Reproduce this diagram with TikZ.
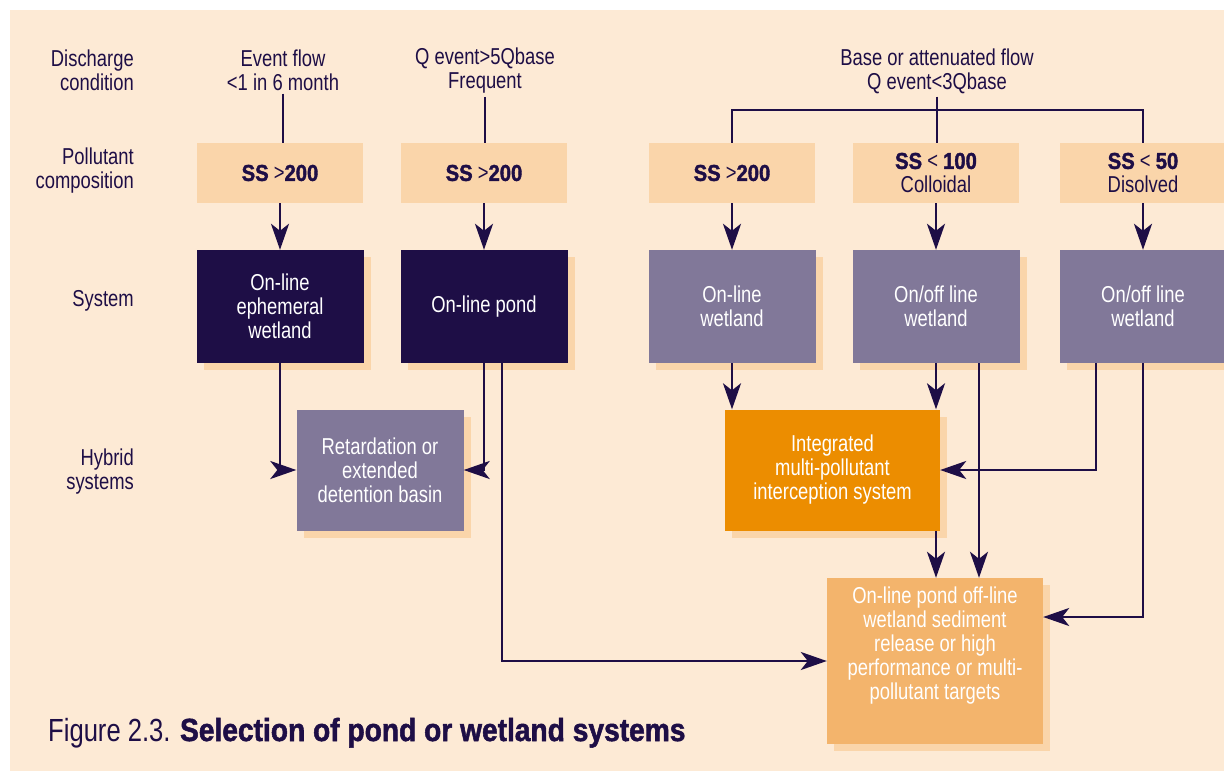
\documentclass[tikz,border=0pt]{standalone}
\usepackage{fontspec}
\setmainfont{Liberation Sans}[FakeStretch=0.8]
\newfontfamily\heavyfont{Liberation Sans}[FakeStretch=0.88, BoldFeatures={FakeBold=1.6}]
\usepackage{xcolor}
\usetikzlibrary{arrows.meta,shadows}

\definecolor{bgpeach}{HTML}{FDEAD5}
\definecolor{lightpeach}{HTML}{FAD5AA}
\definecolor{inkblue}{HTML}{1E0E46}
\definecolor{mauve}{HTML}{817899}
\definecolor{deeporange}{HTML}{EC8D00}
\definecolor{softorange}{HTML}{F3B46C}

\newcommand{\txtsize}{\fontsize{23}{24}\selectfont}
\newcommand{\hv}[1]{{\heavyfont\bfseries #1}}

\tikzset{
  lbl/.style={text=inkblue, align=center, font=\txtsize, inner sep=3pt},
  rowlbl/.style={lbl, align=right, anchor=east},
  polbox/.style={fill=lightpeach, text=inkblue, align=center, font=\txtsize,
    minimum width=166, minimum height=60, inner sep=0pt},
  shadowbox/.style={text=white, align=center, font=\txtsize, inner sep=0pt,
    drop shadow={shadow xshift=7pt, shadow yshift=-7pt, fill=lightpeach, opacity=1}},
  navybox/.style={shadowbox, fill=inkblue, minimum width=167, minimum height=113},
  mauvebox/.style={shadowbox, fill=mauve, minimum width=167, minimum height=113},
  link/.style={draw=inkblue, line width=2.6pt},
  flow/.style={link, -{Stealth[length=26pt,width=18pt,inset=7pt]}}
}

\begin{document}
\begin{tikzpicture}[x=1pt,y=-1pt]
  \useasboundingbox (0,0) rectangle (1224,771);
  \fill[white] (0,0) rectangle (1224,771);
  \fill[bgpeach] (10,10) rectangle (1224,771);

  % row labels
  \node[rowlbl] (rdis) at (137,70) {Discharge\\condition};
  \node[rowlbl] (rpol) at (137,171) {Pollutant\\composition};
  \node[rowlbl] (rsys) at (137,301) {System};
  \node[rowlbl] (rhyb) at (137,472) {Hybrid\\systems};

  % discharge conditions
  \node[lbl] (ev) at (283,70) {Event flow\\<1 in 6 month};
  \node[lbl] (freq) at (485,71) {Q event>5Qbase\\Frequent};
  \node[lbl] (base) at (937,71) {Base or attenuated flow\\Q event<3Qbase};

  % pollutant composition
  \node[polbox] (p1) at (280,173) {\hv{SS} >\hv{200}};
  \node[polbox] (p2) at (484,173) {\hv{SS} >\hv{200}};
  \node[polbox] (p3) at (732,173) {\hv{SS} >\hv{200}};
  \node[polbox] (p4) at (936,173) {\hv{SS} < \hv{100}\\Colloidal};
  \node[polbox] (p5) at (1143,173) {\hv{SS} < \hv{50}\\Disolved};

  % systems
  \node[navybox] (s1) at (280,306.5) {On-line\\ephemeral\\wetland};
  \node[navybox] (s2) at (484,306.5) {On-line pond};
  \node[mauvebox] (s3) at (732,306.5) {On-line\\wetland};
  \node[mauvebox] (s4) at (936,306.5) {On/off line\\wetland};
  \node[mauvebox] (s5) at (1143,306.5) {On/off line\\wetland};

  % hybrid systems
  \node[mauvebox, minimum height=121] (ret) at (380,470)
    {Retardation or\\extended\\detention basin};
  \node[shadowbox, fill=deeporange, minimum width=215, minimum height=121] (int) at (832.5,470)
    {Integrated\\multi-pollutant\\interception system};
  \node[shadowbox, fill=softorange, minimum width=216, minimum height=166] (goal) at (935,661)
    {On-line pond off-line\\wetland sediment\\release or high\\performance or multi-\\pollutant targets\\[12pt]\mbox{}};

  \node[anchor=base west, text=inkblue, inner sep=0pt, font=\fontsize{32}{34}\selectfont] (title)
    at (48,741) {Figure 2.3. \hv{Selection of pond or wetland systems}};

  % connectors
  \draw[link] (ev.south) -- (ev.south |- p1.north);
  \draw[link] (freq.south) -- (freq.south |- p2.north);
  \draw[link] (base.south) -- (base.south |- p4.north);
  \coordinate (split) at (937,110);
  \draw[link] (p3.north) |- (split) -| (p5.north);

  \foreach \c in {1,...,5} {
    \draw[flow] (p\c.south) -- (s\c.north);
  }

  \coordinate (s2r) at ([xshift=18]s2.south);
  \coordinate (s4r) at ([xshift=43]s4.south);
  \coordinate (s5l) at ([xshift=-47]s5.south);
  \draw[flow] (s1.south) |- (ret.west);
  \draw[flow] (s2.south) |- (ret.east);
  \draw[flow] (s2r) |- (goal.west);
  \draw[flow] (s3.south) -- (s3.south |- int.north);
  \draw[flow] (s4.south) -- (s4.south |- int.north);
  \draw[flow] (s4r) -- (s4r |- goal.north);
  \draw[flow] (s5l) |- (int.east);
  \draw[flow] (s5.south) |- ([yshift=44pt]goal.east);
  \draw[flow] (s4.south |- int.south) -- (s4.south |- goal.north);
\end{tikzpicture}
\end{document}
